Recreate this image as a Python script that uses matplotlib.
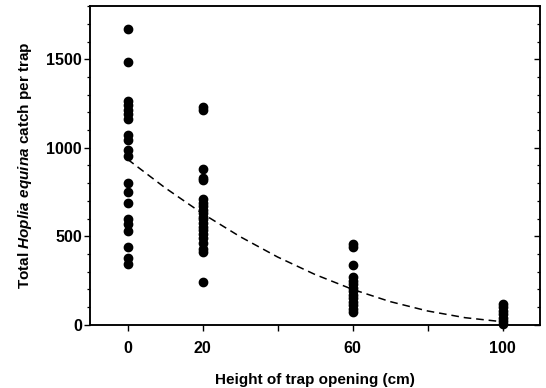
import matplotlib.pyplot as plt
import numpy as np

plt.rcParams['font.family'] = ['Liberation Sans', 'DejaVu Sans']
plt.rcParams['mathtext.fontset'] = 'custom'
plt.rcParams['mathtext.rm'] = 'Liberation Sans:bold'
plt.rcParams['mathtext.it'] = 'Liberation Sans:bold:italic'

# catch per trap, by height of trap opening (cm)
alturas = [0, 20, 60, 100]
captura_0 = [1670, 1485, 1265, 1240, 1215, 1190, 1165, 1075, 1045, 985, 955,
             800, 750, 690, 600, 570, 530, 440, 375, 345]
captura_20 = [1228, 1212, 880, 830, 820, 710, 690, 670, 650, 630, 610, 595,
              575, 555, 535, 515, 490, 460, 430, 410, 240]
captura_60 = [455, 440, 335, 270, 250, 230, 210, 190, 170, 150, 130, 110, 90, 70]
captura_100 = [118, 98, 78, 58, 38, 20, 5]

# fitted curve (dashed)
curva_x = [0, 10, 20, 30, 40, 50, 60, 70, 80, 90, 100]
curva_y = [935, 774, 628, 498, 383, 284, 200, 131, 78, 40, 17]

etiquetas_x = ['0', '20', '', '60', '', '100']

fig = plt.figure(figsize=(5.46, 3.88), dpi=100)
ax = fig.add_axes([0.165, 0.163, 0.824, 0.821])

for h, datos in zip(alturas, [captura_0, captura_20, captura_60, captura_100]):
    ax.scatter([h] * len(datos), datos, s=36, color='black', zorder=3, clip_on=False)

ax.plot(curva_x, curva_y, color='black', linestyle=(0, (5, 3.2)), linewidth=1.1)

ax.set_xlim(-10, 110)
ax.set_ylim(0, 1800)
ax.set_xticks([0, 20, 40, 60, 80, 100])
ax.set_xticklabels(etiquetas_x)
ax.set_yticks([0, 500, 1000, 1500])
ax.set_yticks(np.arange(0, 1801, 100), minor=True)

ax.tick_params(axis='both', which='major', direction='out', length=4.5, width=1,
               labelsize=11.5, pad=7.5)
ax.tick_params(axis='y', which='major', pad=1.5)
ax.tick_params(axis='y', which='minor', direction='out', length=2.5, width=0.9)
for lab in ax.get_xticklabels() + ax.get_yticklabels():
    lab.set_fontweight('bold')

# right side ticks point inward
ax2 = ax.twinx()
ax2.set_ylim(0, 1800)
ax2.set_yticks([0, 500, 1000, 1500])
ax2.set_yticks(np.arange(0, 1801, 100), minor=True)
ax2.tick_params(axis='y', which='major', direction='in', length=4.5, width=1, labelright=False)
ax2.tick_params(axis='y', which='minor', direction='in', length=2.5, width=0.9)

for a in [ax, ax2]:
    for s in a.spines.values():
        s.set_linewidth(1.1)

ax.set_xlabel('Height of trap opening (cm)', fontsize=11, fontweight='bold', labelpad=12)
ax.set_ylabel(r'Total $\it{Hoplia\ equina}$ catch per trap', fontsize=11,
              fontweight='bold', labelpad=9)

plt.savefig('out.png', dpi=100)
plt.close()
